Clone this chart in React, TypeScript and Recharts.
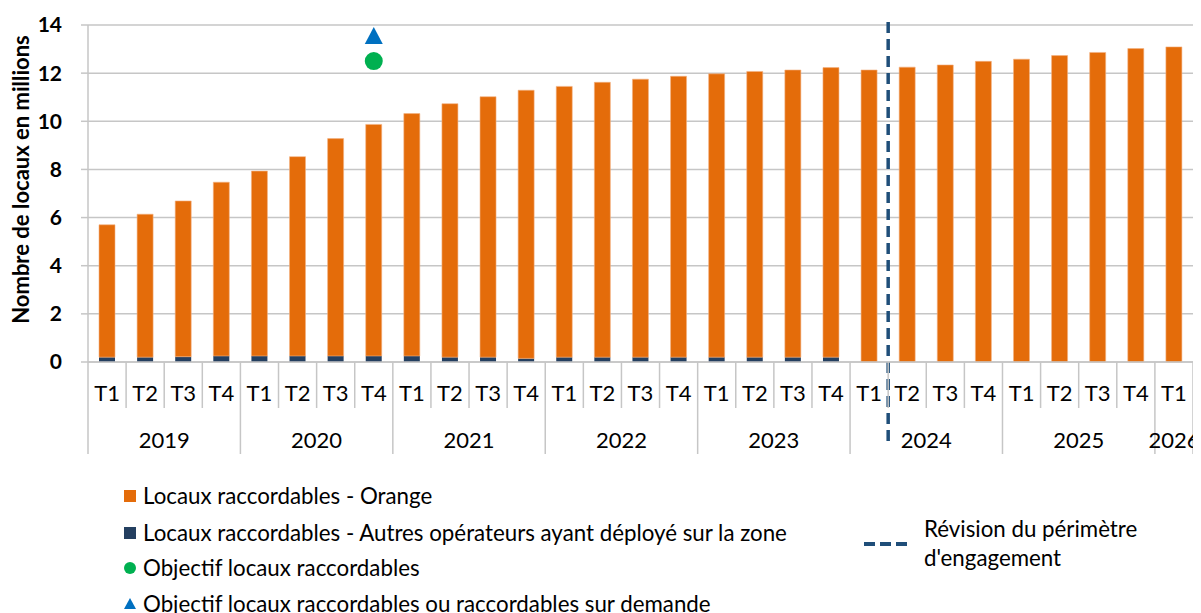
import React from 'react';
import { ComposedChart, Bar, Line, XAxis, YAxis, CartesianGrid, ReferenceLine } from 'recharts';

const quarters = ['T1','T2','T3','T4','T1','T2','T3','T4','T1','T2','T3','T4','T1','T2','T3','T4','T1','T2','T3','T4','T1','T2','T3','T4','T1','T2','T3','T4','T1'];
const years = ['2019','2019','2019','2019','2020','2020','2020','2020','2021','2021','2021','2021','2022','2022','2022','2022','2023','2023','2023','2023','2024','2024','2024','2024','2025','2025','2025','2025','2026'];
const autres = [0.2,0.2,0.22,0.25,0.25,0.25,0.25,0.25,0.25,0.2,0.2,0.15,0.2,0.2,0.2,0.2,0.2,0.2,0.2,0.2,0,0,0,0,0,0,0,0,0];
const orange = [5.5,5.94,6.47,7.22,7.68,8.28,9.03,9.62,10.07,10.53,10.82,11.14,11.25,11.42,11.55,11.67,11.77,11.87,11.93,12.03,12.13,12.25,12.34,12.49,12.58,12.73,12.86,13.02,13.09];
const objectif = [null,null,null,null,null,null,null,12.5,null,null,null,null,null,null,null,null,null,null,null,null,null,null,null,null,null,null,null,null,null];
const objectifDemande = [null,null,null,null,null,null,null,13.5,null,null,null,null,null,null,null,null,null,null,null,null,null,null,null,null,null,null,null,null,null];
const yTicks = [0,2,4,6,8,10,12,14];
const revisionBoundary = 21; // boundary between 2024 T1 and 2024 T2 (in category units)

const legendItems = [
  'Locaux raccordables - Orange',
  'Locaux raccordables - Autres opérateurs ayant déployé sur la zone',
  'Objectif locaux raccordables',
  'Objectif locaux raccordables ou raccordables sur demande',
];
const revisionLabel = ['Révision du périmètre', "d'engagement"];

const ORANGE = '#E46C0A';
const NAVY = '#243F60';
const GREEN = '#00B050';
const BLUE = '#0070C0';
const DASH = '#1F4E79';
const GRID = '#c6c6c6';
const FONT = 'Lato, "Open Sans", sans-serif';

const data = quarters.map((q, i) => ({
  key: `${years[i]}-${q}-${i}`,
  pos: i + 0.5,
  quarter: q,
  year: years[i],
  autres: autres[i],
  orange: orange[i],
  objectif: objectif[i],
  objectifDemande: objectifDemande[i],
}));

const QuarterTick = (props: any) => {
  const { x, y, payload, index } = props;
  const i = payload?.index ?? index;
  const half = payload?.offset ?? 19.05;
  const left = x - half;
  const right = x + half;
  const isYearStart = i === 0 || years[i] !== years[i - 1];
  const isLast = i === years.length - 1;
  let yearLabel = null;
  if (isYearStart) {
    let count = 0;
    for (let k = i; k < years.length && years[k] === years[i]; k++) count++;
    const cx = left + count * half;
    yearLabel = (
      <text x={cx} y={y + 86} textAnchor="middle" fontSize={22} fill="#000" fontFamily={FONT}>
        {years[i]}
      </text>
    );
  }
  return (
    <g>
      <line x1={left} y1={y} x2={left} y2={isYearStart ? y + 92 : y + 46} stroke={GRID} strokeWidth={1.5} />
      {isLast && <line x1={right} y1={y} x2={right} y2={y + 92} stroke={GRID} strokeWidth={1.5} />}
      <text x={x} y={y + 39} textAnchor="middle" fontSize={22} fill="#000" fontFamily={FONT}>
        {quarters[i]}
      </text>
      {yearLabel}
    </g>
  );
};

const CircleDot = (props: any) => {
  const { cx, cy, value } = props;
  if (value == null || cy == null) return <g />;
  return <circle cx={cx} cy={cy} r={9} fill={GREEN} />;
};

const TriangleDot = (props: any) => {
  const { cx, cy, value } = props;
  if (value == null || cy == null) return <g />;
  return <path d={`M${cx},${cy - 10} L${cx + 9},${cy + 7} L${cx - 9},${cy + 7} Z`} fill={BLUE} />;
};

const DashedShape = (props: any) => {
  const { x1, y1, x2, y2 } = props;
  const top = Math.min(y1, y2) - 3;
  const bottom = Math.max(y1, y2) + 85;
  return <line x1={x1} y1={top} x2={x2} y2={bottom} stroke={DASH} strokeWidth={3.5} strokeDasharray="11 6" />;
};

const YLabel = (props: any) => {
  const vb = props.viewBox || { x: 0, y: 25, width: 88, height: 337 };
  const cx = vb.x + 20;
  const cy = vb.y + vb.height / 2 - 14;
  return (
    <text x={cx} y={cy} transform={`rotate(-90 ${cx} ${cy})`} textAnchor="middle" dominantBaseline="central" fontSize={22} fontWeight={700} fill="#000" fontFamily={FONT}>
      Nombre de locaux en millions
    </text>
  );
};

export default function App() {
  return (
    <div style={{ position: 'relative', width: 1201, height: 613, marginLeft: -8, marginTop: -8, background: '#fff', fontFamily: FONT }}>
      <ComposedChart
        width={1201}
        height={613}
        data={data}
        margin={{ top: 25, right: 8, left: 0, bottom: 161 }}
        barCategoryGap={0}
      >
        <CartesianGrid horizontal vertical={false} stroke={GRID} strokeWidth={1.5} />
        <XAxis
          xAxisId="cat"
          dataKey="key"
          type="category"
          interval={0}
          height={90}
          tickSize={0}
          tickMargin={0}
          tickLine={false}
          axisLine={{ stroke: GRID, strokeWidth: 1.5 }}
          tick={<QuarterTick />}
        />
        <XAxis xAxisId="num" dataKey="pos" type="number" domain={[0, quarters.length]} hide allowDataOverflow />
        <YAxis
          domain={[0, 14]}
          ticks={yTicks}
          width={88}
          tickSize={7}
          tickMargin={19}
          interval={0}
          axisLine={{ stroke: GRID, strokeWidth: 1.5 }}
          tickLine={{ stroke: GRID, strokeWidth: 1.5 }}
          tick={{ fontSize: 21, fontWeight: 700, fill: '#000', fontFamily: FONT }}
          label={<YLabel />}
        />
        <Bar xAxisId="cat" dataKey="autres" stackId="a" fill={NAVY} barSize={16} isAnimationActive={false} />
        <Bar xAxisId="cat" dataKey="orange" stackId="a" fill={ORANGE} barSize={16} stroke="#F4B183" strokeWidth={0.6} isAnimationActive={false} />
        <Line xAxisId="cat" dataKey="objectif" stroke="none" dot={<CircleDot />} activeDot={false} isAnimationActive={false} />
        <Line xAxisId="cat" dataKey="objectifDemande" stroke="none" dot={<TriangleDot />} activeDot={false} isAnimationActive={false} />
        <ReferenceLine xAxisId="num" x={revisionBoundary} ifOverflow="visible" shape={<DashedShape />} />
      </ComposedChart>

      <div style={{ position: 'absolute', left: 124, top: 484, fontSize: 22.3, color: '#000', lineHeight: '24px' }}>
        {legendItems.map((t, i) => (
          <div key={t} style={{ position: 'absolute', left: 0, top: [0, 37, 72, 108][i], whiteSpace: 'nowrap', display: 'flex', alignItems: 'center' }}>
            {i < 2 && <span style={{ display: 'inline-block', width: 12, height: 12, background: i === 0 ? ORANGE : NAVY, marginRight: 7 }} />}
            {i === 2 && <span style={{ display: 'inline-block', width: 12, height: 12, borderRadius: 6, background: GREEN, marginRight: 7 }} />}
            {i === 3 && (
              <svg width={12} height={12} style={{ marginRight: 7 }}>
                <path d="M6,0 L12,11 L0,11 Z" fill={BLUE} />
              </svg>
            )}
            <span>{t}</span>
          </div>
        ))}
      </div>
      <div style={{ position: 'absolute', left: 864, top: 514, fontSize: 22.3, color: '#000', lineHeight: '29px' }}>
        <svg width={44} height={6} style={{ position: 'absolute', left: 0, top: 27 }}>
          <line x1={0} y1={3} x2={44} y2={3} stroke={DASH} strokeWidth={4} strokeDasharray="11 5" />
        </svg>
        <div style={{ position: 'absolute', left: 60, top: 0, whiteSpace: 'nowrap' }}>
          {revisionLabel.map((t) => (
            <div key={t}>{t}</div>
          ))}
        </div>
      </div>
    </div>
  );
}
